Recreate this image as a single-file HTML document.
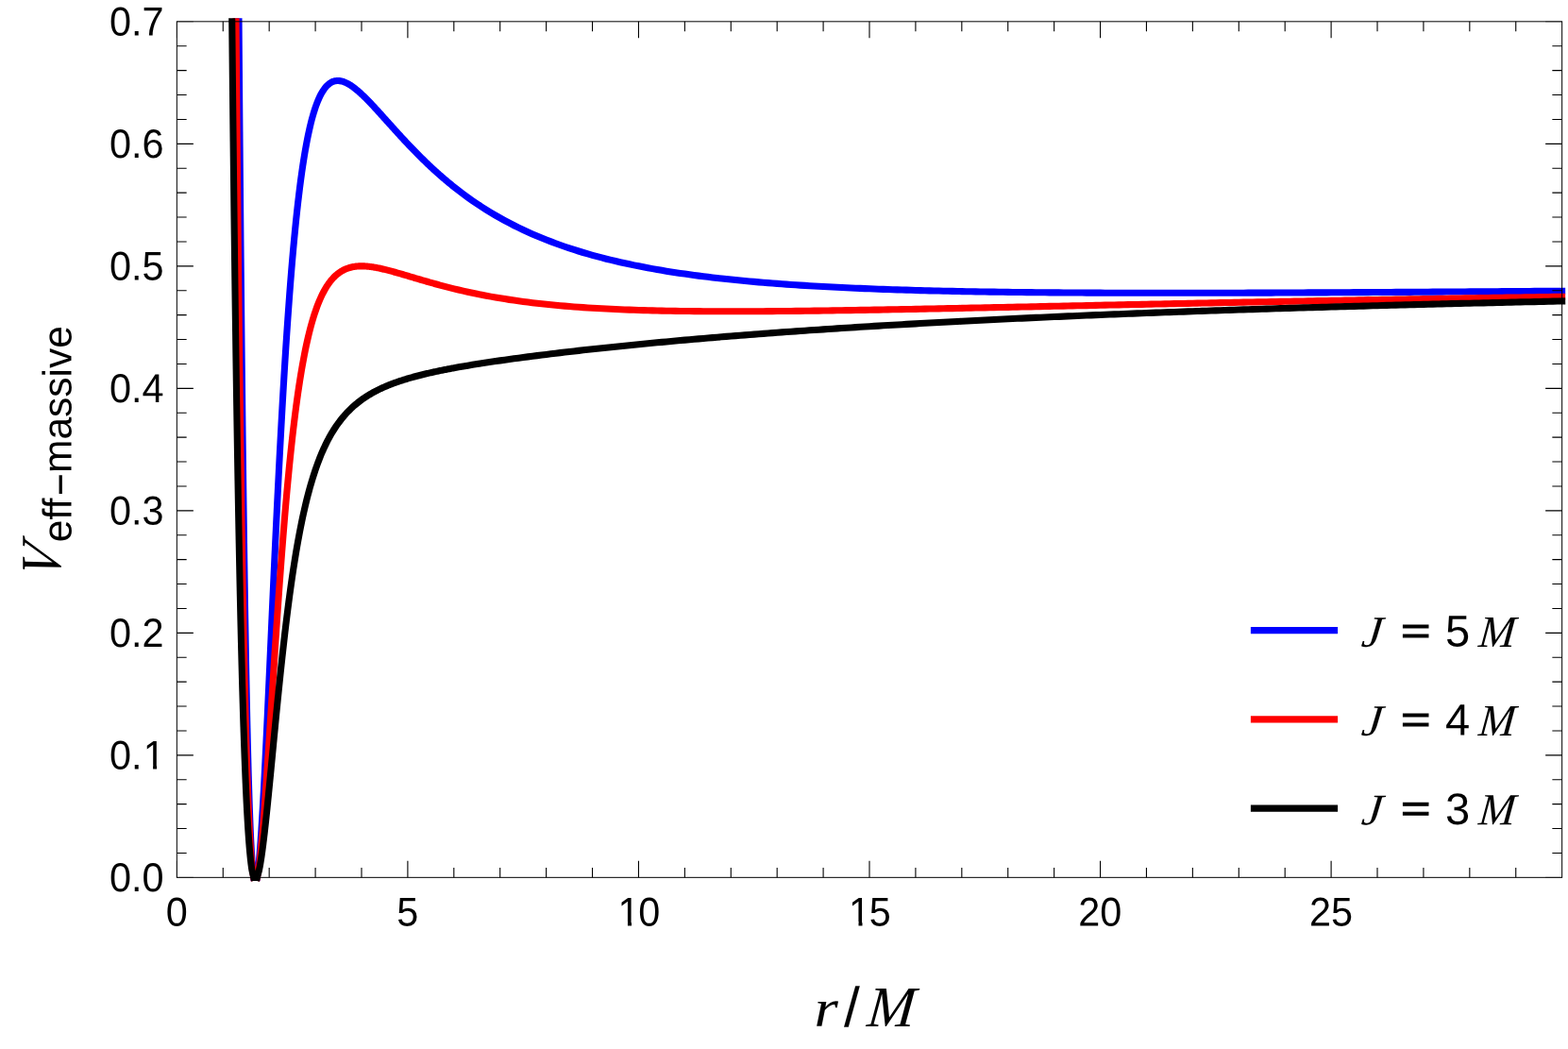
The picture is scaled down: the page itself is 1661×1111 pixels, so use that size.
<!DOCTYPE html>
<html><head><meta charset="utf-8"><title>V eff massive</title>
<style>
html,body{margin:0;padding:0;background:#fff;}
body{width:1661px;height:1111px;overflow:hidden;}
svg{display:block;}
.tk{font-family:"Liberation Sans",sans-serif;font-size:42px;fill:#000;}
.it{font-family:"Liberation Serif",serif;font-style:italic;fill:#000;}
.sa{font-family:"Liberation Sans",sans-serif;fill:#000;}
</style></head><body>
<svg width="1661" height="1111" viewBox="0 0 1661 1111">
<rect x="0" y="0" width="1661" height="1111" fill="#fff"/>

<g fill="none" stroke-width="7.10" stroke-linecap="square" stroke-linejoin="miter">
<path d="M253.01,22.83 L253.14,40.23 L253.27,57.39 L253.40,74.33 L253.53,91.04 L253.66,107.52 L253.79,123.79 L253.93,139.83 L254.06,155.65 L254.19,171.26 L254.32,186.65 L254.45,201.82 L254.58,216.79 L254.71,231.55 L254.84,246.10 L254.97,260.44 L255.11,274.58 L255.24,288.52 L255.37,302.26 L255.50,315.80 L255.63,329.14 L255.76,342.29 L255.89,355.25 L256.02,368.01 L256.15,380.59 L256.29,392.97 L256.42,405.18 L256.55,417.19 L256.68,429.03 L256.81,440.68 L256.94,452.16 L257.07,463.46 L257.20,474.58 L257.33,485.53 L257.47,496.30 L257.60,506.91 L257.73,517.34 L257.86,527.61 L257.99,537.71 L258.12,547.65 L258.25,557.42 L258.38,567.03 L258.52,576.48 L258.65,585.77 L258.78,594.91 L258.91,603.89 L259.04,612.72 L259.17,621.39 L259.30,629.91 L259.43,638.28 L259.56,646.51 L259.70,654.58 L259.83,662.52 L259.96,670.30 L260.09,677.95 L260.22,685.45 L260.35,692.82 L260.48,700.04 L260.61,707.13 L260.74,714.08 L260.88,720.90 L261.01,727.59 L261.14,734.14 L261.27,740.56 L261.40,746.86 L261.53,753.02 L261.66,759.06 L261.79,764.97 L261.92,770.76 L262.06,776.43 L262.19,781.97 L262.32,787.40 L262.45,792.71 L262.58,797.89 L262.71,802.96 L262.84,807.92 L262.97,812.76 L263.10,817.49 L263.24,822.11 L263.37,826.61 L263.50,831.01 L263.63,835.30 L263.76,839.48 L263.89,843.55 L264.02,847.52 L264.15,851.38 L264.28,855.15 L264.42,858.81 L264.55,862.37 L264.68,865.83 L264.81,869.19 L264.94,872.46 L265.07,875.62 L265.20,878.70 L265.33,881.68 L265.47,884.56 L265.60,887.36 L265.73,890.06 L265.86,892.67 L265.99,895.20 L266.12,897.63 L266.25,899.98 L266.38,902.24 L266.51,904.42 L266.65,906.51 L266.78,908.52 L266.91,910.45 L267.04,912.30 L267.17,914.06 L267.30,915.75 L267.43,917.36 L267.56,918.89 L267.69,920.34 L267.83,921.72 L268.74,929.33 M272.34,929.33 L273.32,922.51 L273.52,920.86 L273.71,919.11 L273.91,917.27 L274.10,915.34 L274.30,913.33 L274.49,911.23 L274.69,909.05 L274.89,906.79 L275.08,904.46 L275.28,902.04 L275.47,899.55 L275.67,896.99 L275.86,894.36 L276.06,891.66 L276.25,888.89 L276.45,886.06 L276.65,883.16 L276.84,880.20 L277.04,877.18 L277.23,874.10 L277.43,870.97 L277.62,867.78 L277.82,864.54 L278.02,861.24 L278.21,857.90 L278.41,854.50 L278.60,851.06 L278.80,847.58 L278.99,844.05 L279.19,840.47 L279.39,836.86 L279.58,833.20 L279.78,829.51 L279.97,825.77 L280.17,822.01 L280.36,818.21 L280.56,814.37 L280.75,810.50 L280.95,806.61 L281.15,802.68 L281.34,798.72 L281.54,794.74 L281.73,790.73 L281.93,786.70 L282.12,782.64 L282.32,778.56 L282.52,774.46 L282.71,770.34 L282.91,766.20 L283.10,762.04 L283.30,757.87 L283.49,753.68 L283.69,749.47 L283.88,745.25 L284.08,741.02 L284.28,736.78 L284.47,732.52 L284.67,728.25 L284.86,723.98 L285.06,719.69 L285.25,715.40 L285.45,711.10 L285.65,706.80 L285.84,702.49 L286.04,698.18 L286.23,693.86 L286.43,689.54 L286.62,685.22 L286.82,680.89 L287.02,676.57 L287.21,672.24 L287.41,667.92 L287.60,663.60 L287.80,659.28 L287.99,654.97 L288.19,650.65 L288.38,646.34 L288.58,642.04 L288.78,637.74 L288.97,633.45 L289.17,629.16 L289.36,624.88 L289.56,620.61 L289.75,616.35 L289.95,612.09 L290.15,607.85 L290.34,603.61 L290.54,599.39 L290.73,595.17 L290.93,590.97 L291.12,586.78 L291.32,582.59 L291.51,578.43 L291.71,574.27 L291.91,570.13 L292.10,566.00 L292.30,561.88 L292.49,557.78 L292.69,553.70 L292.88,549.63 L293.08,545.57 L293.28,541.53 L293.47,537.51 L293.67,533.50 L293.86,529.51 L294.06,525.54 L294.25,521.58 L294.45,517.64 L294.65,513.72 L294.84,509.82 L295.04,505.93 L296.01,486.78 L296.99,468.13 L297.97,449.98 L298.95,432.35 L299.93,415.27 L300.91,398.73 L301.88,382.75 L302.86,367.33 L303.84,352.47 L304.82,338.16 L305.80,324.40 L306.77,311.19 L307.75,298.51 L308.73,286.36 L309.71,274.74 L310.69,263.61 L311.67,252.98 L312.64,242.84 L313.62,233.16 L314.60,223.93 L315.58,215.15 L316.56,206.79 L317.53,198.84 L318.51,191.29 L319.49,184.13 L320.47,177.33 L321.45,170.89 L322.43,164.78 L323.40,159.01 L324.38,153.55 L325.36,148.40 L326.34,143.53 L327.32,138.94 L328.30,134.62 L329.27,130.55 L330.25,126.73 L331.23,123.14 L332.21,119.77 L333.19,116.62 L334.16,113.67 L335.14,110.91 L336.12,108.34 L337.10,105.96 L338.08,103.74 L339.06,101.68 L340.03,99.78 L341.01,98.03 L341.99,96.42 L342.97,94.94 L343.95,93.60 L344.92,92.38 L345.90,91.27 L346.88,90.28 L347.86,89.40 L348.84,88.62 L349.82,87.93 L350.79,87.34 L351.77,86.84 L352.75,86.43 L353.73,86.09 L354.71,85.83 L355.68,85.65 L356.66,85.54 L357.64,85.49 L358.62,85.51 L359.60,85.59 L360.58,85.72 L361.55,85.91 L362.53,86.16 L363.51,86.45 L364.49,86.79 L365.47,87.18 L366.44,87.61 L367.42,88.08 L368.40,88.60 L369.38,89.14 L370.36,89.73 L371.34,90.34 L372.31,90.99 L373.29,91.67 L374.27,92.38 L375.25,93.11 L376.23,93.87 L377.21,94.66 L378.18,95.46 L379.16,96.29 L380.14,97.14 L381.12,98.01 L382.10,98.90 L383.07,99.80 L384.05,100.72 L385.03,101.65 L386.01,102.60 L386.99,103.57 L387.97,104.54 L388.94,105.53 L389.92,106.52 L390.90,107.53 L391.88,108.55 L392.86,109.57 L393.83,110.61 L394.81,111.65 L395.79,112.70 L396.77,113.75 L397.75,114.81 L398.73,115.87 L399.70,116.94 L400.68,118.01 L401.66,119.09 L402.64,120.17 L403.62,121.25 L404.59,122.34 L405.57,123.42 L406.55,124.51 L407.53,125.60 L408.51,126.69 L409.49,127.78 L410.46,128.87 L411.44,129.96 L412.42,131.05 L413.40,132.14 L414.38,133.23 L415.35,134.32 L416.33,135.40 L417.31,136.49 L418.29,137.57 L419.27,138.65 L420.25,139.73 L421.22,140.80 L422.20,141.87 L423.18,142.94 L424.16,144.01 L425.14,145.07 L426.12,146.13 L427.09,147.19 L428.07,148.24 L429.05,149.29 L430.03,150.34 L431.01,151.38 L431.98,152.42 L432.96,153.45 L433.94,154.48 L434.92,155.51 L435.90,156.53 L436.88,157.54 L437.85,158.56 L438.83,159.56 L439.81,160.56 L440.79,161.56 L441.77,162.55 L442.74,163.54 L443.72,164.52 L444.70,165.50 L445.68,166.47 L446.66,167.44 L447.64,168.40 L448.61,169.36 L449.59,170.31 L450.57,171.26 L451.55,172.20 L452.53,173.14 L453.50,174.07 L454.48,174.99 L455.46,175.91 L456.44,176.83 L457.42,177.74 L458.40,178.64 L459.37,179.54 L460.35,180.44 L461.33,181.32 L462.31,182.21 L463.29,183.08 L464.26,183.96 L465.24,184.82 L466.22,185.68 L467.20,186.54 L468.18,187.39 L469.16,188.24 L470.13,189.08 L471.11,189.91 L472.09,190.74 L473.07,191.56 L474.05,192.38 L475.03,193.19 L476.00,194.00 L476.98,194.80 L477.96,195.60 L478.94,196.39 L479.92,197.18 L480.89,197.96 L485.79,201.79 L490.68,205.50 L495.57,209.07 L500.46,212.53 L505.35,215.87 L510.24,219.09 L515.13,222.21 L520.02,225.21 L524.91,228.11 L529.80,230.91 L534.70,233.61 L539.59,236.21 L544.48,238.73 L549.37,241.16 L554.26,243.50 L559.15,245.76 L564.04,247.94 L568.93,250.05 L573.82,252.08 L578.71,254.04 L583.61,255.93 L588.50,257.76 L593.39,259.53 L598.28,261.23 L603.17,262.88 L608.06,264.47 L612.95,266.01 L617.84,267.49 L622.73,268.92 L627.62,270.31 L632.52,271.64 L637.41,272.94 L642.30,274.19 L647.19,275.40 L652.08,276.56 L656.97,277.69 L661.86,278.78 L666.75,279.84 L671.64,280.86 L676.53,281.85 L681.43,282.80 L686.32,283.72 L691.21,284.62 L696.10,285.48 L700.99,286.32 L705.88,287.13 L710.77,287.91 L715.66,288.67 L720.55,289.40 L725.44,290.11 L730.34,290.80 L735.23,291.46 L740.12,292.11 L745.01,292.73 L749.90,293.34 L754.79,293.92 L759.68,294.49 L764.57,295.03 L769.46,295.56 L774.35,296.08 L779.25,296.58 L784.14,297.06 L789.03,297.52 L793.92,297.98 L798.81,298.41 L803.70,298.84 L808.59,299.25 L813.48,299.65 L818.37,300.03 L823.26,300.40 L828.16,300.76 L833.05,301.11 L837.94,301.45 L842.83,301.78 L847.72,302.10 L852.61,302.41 L857.50,302.71 L862.39,302.99 L867.28,303.27 L872.17,303.54 L877.07,303.81 L881.96,304.06 L886.85,304.30 L891.74,304.54 L896.63,304.77 L901.52,304.99 L906.41,305.21 L911.30,305.42 L916.19,305.62 L921.08,305.81 L925.98,306.00 L930.87,306.19 L935.76,306.36 L940.65,306.53 L945.54,306.70 L950.43,306.86 L955.32,307.01 L960.21,307.16 L965.10,307.30 L969.99,307.44 L974.89,307.58 L979.78,307.70 L984.67,307.83 L989.56,307.95 L994.45,308.07 L999.34,308.18 L1004.23,308.29 L1009.12,308.39 L1014.01,308.49 L1018.90,308.59 L1023.80,308.68 L1028.69,308.77 L1033.58,308.85 L1038.47,308.94 L1043.36,309.02 L1048.25,309.09 L1053.14,309.16 L1058.03,309.23 L1062.92,309.30 L1067.81,309.37 L1072.71,309.43 L1077.60,309.49 L1082.49,309.54 L1087.38,309.60 L1092.27,309.65 L1097.16,309.70 L1102.05,309.74 L1106.94,309.79 L1111.83,309.83 L1116.72,309.87 L1121.62,309.91 L1126.51,309.94 L1131.40,309.97 L1136.29,310.01 L1141.18,310.04 L1146.07,310.06 L1150.96,310.09 L1155.85,310.11 L1160.74,310.14 L1165.63,310.16 L1170.53,310.18 L1175.42,310.20 L1180.31,310.21 L1185.20,310.23 L1190.09,310.24 L1194.98,310.25 L1199.87,310.26 L1204.76,310.27 L1209.65,310.28 L1214.54,310.29 L1219.44,310.29 L1224.33,310.30 L1229.22,310.30 L1234.11,310.30 L1239.00,310.30 L1243.89,310.30 L1248.78,310.30 L1253.67,310.30 L1258.56,310.29 L1263.45,310.29 L1268.35,310.28 L1273.24,310.28 L1278.13,310.27 L1283.02,310.26 L1287.91,310.25 L1292.80,310.24 L1297.69,310.23 L1302.58,310.22 L1307.47,310.21 L1312.36,310.19 L1317.26,310.18 L1322.15,310.17 L1327.04,310.15 L1331.93,310.14 L1336.82,310.12 L1341.71,310.10 L1346.60,310.08 L1351.49,310.07 L1356.38,310.05 L1361.27,310.03 L1366.17,310.01 L1371.06,309.99 L1375.95,309.96 L1380.84,309.94 L1385.73,309.92 L1390.62,309.90 L1395.51,309.87 L1400.40,309.85 L1405.29,309.83 L1410.18,309.80 L1415.08,309.78 L1419.97,309.75 L1424.86,309.73 L1429.75,309.70 L1434.64,309.67 L1439.53,309.65 L1444.42,309.62 L1449.31,309.59 L1454.20,309.56 L1459.09,309.53 L1463.99,309.50 L1468.88,309.48 L1473.77,309.45 L1478.66,309.42 L1483.55,309.39 L1488.44,309.36 L1493.33,309.33 L1498.22,309.29 L1503.11,309.26 L1508.00,309.23 L1512.90,309.20 L1517.79,309.17 L1522.68,309.14 L1527.57,309.10 L1532.46,309.07 L1537.35,309.04 L1542.24,309.01 L1547.13,308.97 L1552.02,308.94 L1556.91,308.91 L1561.81,308.87 L1566.70,308.84 L1571.59,308.81 L1576.48,308.77 L1581.37,308.74 L1586.26,308.70 L1591.15,308.67 L1596.04,308.63 L1600.93,308.60 L1605.82,308.56 L1610.72,308.53 L1615.61,308.49 L1620.50,308.46 L1625.39,308.42 L1630.28,308.39 L1635.17,308.35 L1640.06,308.32 L1644.95,308.28 L1649.84,308.24 L1654.65,308.21" stroke="#0000ff"/>
<path d="M250.03,22.83 L250.18,40.97 L250.34,58.86 L250.50,76.48 L250.65,93.86 L250.81,110.98 L250.96,127.86 L251.12,144.49 L251.28,160.87 L251.43,177.02 L251.59,192.92 L251.74,208.59 L251.90,224.03 L252.05,239.24 L252.21,254.21 L252.37,268.97 L252.52,283.49 L252.68,297.80 L252.83,311.88 L252.99,325.75 L253.15,339.41 L253.30,352.85 L253.46,366.08 L253.61,379.10 L253.77,391.92 L253.93,404.53 L254.08,416.94 L254.24,429.15 L254.39,441.16 L254.55,452.98 L254.71,464.60 L254.86,476.03 L255.02,487.28 L255.17,498.33 L255.33,509.20 L255.49,519.88 L255.64,530.39 L255.80,540.71 L255.95,550.86 L256.11,560.83 L256.27,570.62 L256.42,580.24 L256.58,589.70 L256.73,598.98 L256.89,608.10 L257.05,617.05 L257.20,625.84 L257.36,634.46 L257.51,642.93 L257.67,651.24 L257.83,659.39 L257.98,667.39 L258.14,675.23 L258.29,682.92 L258.45,690.47 L258.61,697.86 L258.76,705.11 L258.92,712.22 L259.07,719.18 L259.23,726.00 L259.39,732.67 L259.54,739.21 L259.70,745.62 L259.85,751.89 L260.01,758.02 L260.17,764.02 L260.32,769.89 L260.48,775.63 L260.63,781.24 L260.79,786.73 L260.95,792.09 L261.10,797.33 L261.26,802.45 L261.41,807.44 L261.57,812.32 L261.72,817.07 L261.88,821.71 L262.04,826.24 L262.19,830.65 L262.35,834.95 L262.50,839.13 L262.66,843.21 L262.82,847.18 L262.97,851.04 L263.13,854.80 L263.28,858.45 L263.44,861.99 L263.60,865.44 L263.75,868.78 L263.91,872.02 L264.06,875.17 L264.22,878.22 L264.38,881.17 L264.53,884.02 L264.69,886.79 L264.84,889.45 L265.00,892.03 L265.16,894.52 L265.31,896.92 L265.47,899.23 L265.62,901.45 L265.78,903.59 L265.94,905.65 L266.09,907.62 L266.25,909.50 L266.40,911.31 L266.56,913.03 L266.72,914.68 L266.87,916.25 L267.03,917.74 L267.18,919.15 L267.34,920.49 L267.50,921.76 L268.74,929.33 M272.34,929.33 L273.71,922.38 L273.91,921.13 L274.10,919.82 L274.30,918.44 L274.49,917.01 L274.69,915.53 L274.89,913.98 L275.08,912.39 L275.28,910.74 L275.47,909.04 L275.67,907.29 L275.86,905.49 L276.06,903.64 L276.25,901.75 L276.45,899.81 L276.65,897.83 L276.84,895.80 L277.04,893.73 L277.23,891.62 L277.43,889.47 L277.62,887.28 L277.82,885.06 L278.02,882.79 L278.21,880.49 L278.41,878.16 L278.60,875.80 L278.80,873.40 L278.99,870.97 L279.19,868.51 L279.39,866.02 L279.58,863.50 L279.78,860.95 L279.97,858.38 L280.17,855.78 L280.36,853.15 L280.56,850.51 L280.75,847.83 L280.95,845.14 L281.15,842.43 L281.34,839.69 L281.54,836.93 L281.73,834.16 L281.93,831.36 L282.12,828.55 L282.32,825.73 L282.52,822.88 L282.71,820.02 L282.91,817.15 L283.10,814.26 L283.30,811.36 L283.49,808.45 L283.69,805.52 L283.88,802.59 L284.08,799.64 L284.28,796.68 L284.47,793.72 L284.67,790.74 L284.86,787.76 L285.06,784.77 L285.25,781.78 L285.45,778.78 L285.65,775.77 L285.84,772.75 L286.04,769.74 L286.23,766.72 L286.43,763.69 L286.62,760.66 L286.82,757.63 L287.02,754.60 L287.21,751.57 L287.41,748.53 L287.60,745.50 L287.80,742.46 L287.99,739.43 L288.19,736.40 L288.38,733.37 L288.58,730.34 L288.78,727.31 L288.97,724.28 L289.17,721.26 L289.36,718.24 L289.56,715.22 L289.75,712.21 L289.95,709.21 L290.15,706.20 L290.34,703.21 L290.54,700.22 L290.73,697.23 L290.93,694.25 L291.12,691.28 L291.32,688.31 L291.51,685.35 L291.71,682.40 L291.91,679.46 L292.10,676.52 L292.30,673.59 L292.49,670.67 L292.69,667.76 L292.88,664.86 L293.08,661.97 L293.28,659.08 L293.47,656.21 L293.67,653.35 L293.86,650.49 L294.06,647.65 L294.25,644.82 L294.45,642.00 L294.65,639.19 L294.84,636.39 L295.04,633.60 L296.01,619.83 L296.99,606.37 L297.97,593.23 L298.95,580.43 L299.93,567.97 L300.91,555.87 L301.88,544.13 L302.86,532.75 L303.84,521.73 L304.82,511.08 L305.80,500.79 L306.77,490.87 L307.75,481.30 L308.73,472.08 L309.71,463.21 L310.69,454.67 L311.67,446.47 L312.64,438.59 L313.62,431.03 L314.60,423.77 L315.58,416.81 L316.56,410.14 L317.53,403.75 L318.51,397.63 L319.49,391.77 L320.47,386.17 L321.45,380.81 L322.43,375.68 L323.40,370.78 L324.38,366.10 L325.36,361.62 L326.34,357.35 L327.32,353.27 L328.30,349.38 L329.27,345.66 L330.25,342.12 L331.23,338.74 L332.21,335.51 L333.19,332.44 L334.16,329.51 L335.14,326.72 L336.12,324.06 L337.10,321.53 L338.08,319.13 L339.06,316.84 L340.03,314.66 L341.01,312.59 L341.99,310.62 L342.97,308.75 L343.95,306.97 L344.92,305.28 L345.90,303.69 L346.88,302.17 L347.86,300.73 L348.84,299.37 L349.82,298.08 L350.79,296.87 L351.77,295.72 L352.75,294.63 L353.73,293.61 L354.71,292.64 L355.68,291.73 L356.66,290.87 L357.64,290.07 L358.62,289.32 L359.60,288.61 L360.58,287.95 L361.55,287.34 L362.53,286.76 L363.51,286.23 L364.49,285.73 L365.47,285.27 L366.44,284.85 L367.42,284.46 L368.40,284.10 L369.38,283.78 L370.36,283.48 L371.34,283.21 L372.31,282.97 L373.29,282.76 L374.27,282.57 L375.25,282.40 L376.23,282.26 L377.21,282.14 L378.18,282.04 L379.16,281.96 L380.14,281.90 L381.12,281.86 L382.10,281.84 L383.07,281.83 L384.05,281.84 L385.03,281.86 L386.01,281.90 L386.99,281.96 L387.97,282.02 L388.94,282.10 L389.92,282.20 L390.90,282.30 L391.88,282.41 L392.86,282.54 L393.83,282.68 L394.81,282.82 L395.79,282.98 L396.77,283.14 L397.75,283.31 L398.73,283.49 L399.70,283.68 L400.68,283.87 L401.66,284.07 L402.64,284.28 L403.62,284.49 L404.59,284.71 L405.57,284.94 L406.55,285.17 L407.53,285.40 L408.51,285.64 L409.49,285.89 L410.46,286.13 L411.44,286.39 L412.42,286.64 L413.40,286.90 L414.38,287.16 L415.35,287.43 L416.33,287.70 L417.31,287.97 L418.29,288.24 L419.27,288.51 L420.25,288.79 L421.22,289.07 L422.20,289.35 L423.18,289.63 L424.16,289.91 L425.14,290.20 L426.12,290.48 L427.09,290.77 L428.07,291.06 L429.05,291.35 L430.03,291.64 L431.01,291.93 L431.98,292.22 L432.96,292.51 L433.94,292.80 L434.92,293.09 L435.90,293.38 L436.88,293.67 L437.85,293.96 L438.83,294.25 L439.81,294.54 L440.79,294.83 L441.77,295.12 L442.74,295.41 L443.72,295.69 L444.70,295.98 L445.68,296.27 L446.66,296.56 L447.64,296.84 L448.61,297.13 L449.59,297.41 L450.57,297.69 L451.55,297.97 L452.53,298.25 L453.50,298.53 L454.48,298.81 L455.46,299.09 L456.44,299.37 L457.42,299.64 L458.40,299.92 L459.37,300.19 L460.35,300.46 L461.33,300.73 L462.31,301.00 L463.29,301.27 L464.26,301.53 L465.24,301.80 L466.22,302.06 L467.20,302.32 L468.18,302.58 L469.16,302.84 L470.13,303.10 L471.11,303.36 L472.09,303.61 L473.07,303.86 L474.05,304.12 L475.03,304.37 L476.00,304.61 L476.98,304.86 L477.96,305.11 L478.94,305.35 L479.92,305.59 L480.89,305.83 L485.79,307.01 L490.68,308.15 L495.57,309.25 L500.46,310.30 L505.35,311.32 L510.24,312.30 L515.13,313.23 L520.02,314.13 L524.91,315.00 L529.80,315.82 L534.70,316.61 L539.59,317.37 L544.48,318.09 L549.37,318.78 L554.26,319.44 L559.15,320.07 L564.04,320.67 L568.93,321.24 L573.82,321.79 L578.71,322.31 L583.61,322.80 L588.50,323.27 L593.39,323.71 L598.28,324.14 L603.17,324.54 L608.06,324.92 L612.95,325.28 L617.84,325.62 L622.73,325.94 L627.62,326.25 L632.52,326.53 L637.41,326.80 L642.30,327.06 L647.19,327.30 L652.08,327.52 L656.97,327.74 L661.86,327.93 L666.75,328.12 L671.64,328.29 L676.53,328.45 L681.43,328.60 L686.32,328.74 L691.21,328.87 L696.10,328.99 L700.99,329.10 L705.88,329.19 L710.77,329.28 L715.66,329.37 L720.55,329.44 L725.44,329.51 L730.34,329.56 L735.23,329.61 L740.12,329.66 L745.01,329.70 L749.90,329.73 L754.79,329.75 L759.68,329.77 L764.57,329.78 L769.46,329.79 L774.35,329.79 L779.25,329.79 L784.14,329.78 L789.03,329.77 L793.92,329.75 L798.81,329.73 L803.70,329.71 L808.59,329.68 L813.48,329.65 L818.37,329.61 L823.26,329.57 L828.16,329.53 L833.05,329.49 L837.94,329.44 L842.83,329.39 L847.72,329.33 L852.61,329.27 L857.50,329.22 L862.39,329.15 L867.28,329.09 L872.17,329.02 L877.07,328.95 L881.96,328.88 L886.85,328.81 L891.74,328.74 L896.63,328.66 L901.52,328.58 L906.41,328.50 L911.30,328.42 L916.19,328.34 L921.08,328.26 L925.98,328.17 L930.87,328.09 L935.76,328.00 L940.65,327.91 L945.54,327.82 L950.43,327.73 L955.32,327.64 L960.21,327.54 L965.10,327.45 L969.99,327.36 L974.89,327.26 L979.78,327.16 L984.67,327.07 L989.56,326.97 L994.45,326.87 L999.34,326.77 L1004.23,326.67 L1009.12,326.58 L1014.01,326.47 L1018.90,326.37 L1023.80,326.27 L1028.69,326.17 L1033.58,326.07 L1038.47,325.97 L1043.36,325.87 L1048.25,325.76 L1053.14,325.66 L1058.03,325.56 L1062.92,325.45 L1067.81,325.35 L1072.71,325.25 L1077.60,325.14 L1082.49,325.04 L1087.38,324.93 L1092.27,324.83 L1097.16,324.73 L1102.05,324.62 L1106.94,324.52 L1111.83,324.41 L1116.72,324.31 L1121.62,324.20 L1126.51,324.10 L1131.40,324.00 L1136.29,323.89 L1141.18,323.79 L1146.07,323.68 L1150.96,323.58 L1155.85,323.48 L1160.74,323.37 L1165.63,323.27 L1170.53,323.16 L1175.42,323.06 L1180.31,322.96 L1185.20,322.85 L1190.09,322.75 L1194.98,322.65 L1199.87,322.55 L1204.76,322.44 L1209.65,322.34 L1214.54,322.24 L1219.44,322.14 L1224.33,322.04 L1229.22,321.94 L1234.11,321.83 L1239.00,321.73 L1243.89,321.63 L1248.78,321.53 L1253.67,321.43 L1258.56,321.33 L1263.45,321.23 L1268.35,321.13 L1273.24,321.03 L1278.13,320.94 L1283.02,320.84 L1287.91,320.74 L1292.80,320.64 L1297.69,320.54 L1302.58,320.45 L1307.47,320.35 L1312.36,320.25 L1317.26,320.15 L1322.15,320.06 L1327.04,319.96 L1331.93,319.87 L1336.82,319.77 L1341.71,319.68 L1346.60,319.58 L1351.49,319.49 L1356.38,319.39 L1361.27,319.30 L1366.17,319.21 L1371.06,319.11 L1375.95,319.02 L1380.84,318.93 L1385.73,318.84 L1390.62,318.74 L1395.51,318.65 L1400.40,318.56 L1405.29,318.47 L1410.18,318.38 L1415.08,318.29 L1419.97,318.20 L1424.86,318.11 L1429.75,318.02 L1434.64,317.93 L1439.53,317.84 L1444.42,317.75 L1449.31,317.66 L1454.20,317.58 L1459.09,317.49 L1463.99,317.40 L1468.88,317.32 L1473.77,317.23 L1478.66,317.14 L1483.55,317.06 L1488.44,316.97 L1493.33,316.89 L1498.22,316.80 L1503.11,316.72 L1508.00,316.63 L1512.90,316.55 L1517.79,316.47 L1522.68,316.38 L1527.57,316.30 L1532.46,316.22 L1537.35,316.13 L1542.24,316.05 L1547.13,315.97 L1552.02,315.89 L1556.91,315.81 L1561.81,315.73 L1566.70,315.65 L1571.59,315.57 L1576.48,315.49 L1581.37,315.41 L1586.26,315.33 L1591.15,315.25 L1596.04,315.17 L1600.93,315.09 L1605.82,315.01 L1610.72,314.94 L1615.61,314.86 L1620.50,314.78 L1625.39,314.71 L1630.28,314.63 L1635.17,314.55 L1640.06,314.48 L1644.95,314.40 L1649.84,314.33 L1654.65,314.25" stroke="#ff0000"/>
<path d="M245.75,22.83 L245.95,41.86 L246.14,60.60 L246.33,79.05 L246.52,97.21 L246.71,115.08 L246.90,132.67 L247.10,149.98 L247.29,167.01 L247.48,183.78 L247.67,200.28 L247.86,216.51 L248.05,232.48 L248.25,248.19 L248.44,263.64 L248.63,278.84 L248.82,293.80 L249.01,308.50 L249.20,322.97 L249.39,337.19 L249.59,351.18 L249.78,364.93 L249.97,378.44 L250.16,391.73 L250.35,404.80 L250.54,417.64 L250.74,430.26 L250.93,442.66 L251.12,454.84 L251.31,466.82 L251.50,478.58 L251.69,490.13 L251.88,501.48 L252.08,512.63 L252.27,523.57 L252.46,534.32 L252.65,544.87 L252.84,555.23 L253.03,565.40 L253.23,575.38 L253.42,585.17 L253.61,594.78 L253.80,604.20 L253.99,613.45 L254.18,622.52 L254.38,631.41 L254.57,640.13 L254.76,648.68 L254.95,657.07 L255.14,665.28 L255.33,673.33 L255.52,681.22 L255.72,688.94 L255.91,696.51 L256.10,703.92 L256.29,711.17 L256.48,718.27 L256.67,725.22 L256.87,732.03 L257.06,738.68 L257.25,745.19 L257.44,751.55 L257.63,757.78 L257.82,763.86 L258.02,769.80 L258.21,775.61 L258.40,781.29 L258.59,786.83 L258.78,792.23 L258.97,797.51 L259.16,802.66 L259.36,807.69 L259.55,812.59 L259.74,817.36 L259.93,822.02 L260.12,826.55 L260.31,830.97 L260.51,835.27 L260.70,839.45 L260.89,843.52 L261.08,847.48 L261.27,851.32 L261.46,855.06 L261.66,858.69 L261.85,862.21 L262.04,865.63 L262.23,868.94 L262.42,872.16 L262.61,875.27 L262.80,878.28 L263.00,881.19 L263.19,884.01 L263.38,886.73 L263.57,889.36 L263.76,891.90 L263.95,894.34 L264.15,896.69 L264.34,898.96 L264.53,901.14 L264.72,903.23 L264.91,905.23 L265.10,907.16 L265.30,909.00 L265.49,910.76 L265.68,912.43 L265.87,914.03 L266.06,915.56 L266.25,917.00 L266.44,918.37 L266.64,919.67 L266.83,920.89 L267.02,922.04 L268.74,929.33 M272.34,929.33 L274.30,922.42 L274.49,921.51 L274.69,920.56 L274.89,919.58 L275.08,918.56 L275.28,917.51 L275.47,916.42 L275.67,915.30 L275.86,914.15 L276.06,912.96 L276.25,911.75 L276.45,910.51 L276.65,909.23 L276.84,907.93 L277.04,906.60 L277.23,905.24 L277.43,903.86 L277.62,902.45 L277.82,901.01 L278.02,899.55 L278.21,898.07 L278.41,896.56 L278.60,895.03 L278.80,893.48 L278.99,891.91 L279.19,890.31 L279.39,888.70 L279.58,887.06 L279.78,885.41 L279.97,883.74 L280.17,882.05 L280.36,880.34 L280.56,878.61 L280.75,876.87 L280.95,875.11 L281.15,873.34 L281.34,871.55 L281.54,869.75 L281.73,867.93 L281.93,866.11 L282.12,864.26 L282.32,862.41 L282.52,860.54 L282.71,858.66 L282.91,856.78 L283.10,854.88 L283.30,852.97 L283.49,851.05 L283.69,849.12 L283.88,847.18 L284.08,845.23 L284.28,843.28 L284.47,841.32 L284.67,839.35 L284.86,837.37 L285.06,835.39 L285.25,833.40 L285.45,831.41 L285.65,829.41 L285.84,827.41 L286.04,825.40 L286.23,823.38 L286.43,821.37 L286.62,819.35 L286.82,817.32 L287.02,815.29 L287.21,813.26 L287.41,811.23 L287.60,809.20 L287.80,807.16 L287.99,805.13 L288.19,803.09 L288.38,801.05 L288.58,799.01 L288.78,796.97 L288.97,794.93 L289.17,792.89 L289.36,790.85 L289.56,788.81 L289.75,786.77 L289.95,784.74 L290.15,782.70 L290.34,780.67 L290.54,778.64 L290.73,776.61 L290.93,774.58 L291.12,772.56 L291.32,770.54 L291.51,768.52 L291.71,766.50 L291.91,764.49 L292.10,762.48 L292.30,760.48 L292.49,758.48 L292.69,756.48 L292.88,754.49 L293.08,752.50 L293.28,750.51 L293.47,748.54 L293.67,746.56 L293.86,744.59 L294.06,742.63 L294.25,740.67 L294.45,738.72 L294.65,736.77 L294.84,734.83 L295.04,732.90 L296.01,723.31 L296.99,713.89 L297.97,704.65 L298.95,695.60 L299.93,686.74 L300.91,678.08 L301.88,669.64 L302.86,661.40 L303.84,653.38 L304.82,645.58 L305.80,637.99 L306.77,630.62 L307.75,623.47 L308.73,616.52 L309.71,609.80 L310.69,603.27 L311.67,596.96 L312.64,590.84 L313.62,584.92 L314.60,579.20 L315.58,573.66 L316.56,568.30 L317.53,563.12 L318.51,558.12 L319.49,553.28 L320.47,548.60 L321.45,544.08 L322.43,539.71 L323.40,535.49 L324.38,531.41 L325.36,527.47 L326.34,523.66 L327.32,519.97 L328.30,516.41 L329.27,512.97 L330.25,509.64 L331.23,506.42 L332.21,503.31 L333.19,500.30 L334.16,497.39 L335.14,494.57 L336.12,491.85 L337.10,489.21 L338.08,486.65 L339.06,484.18 L340.03,481.78 L341.01,479.46 L341.99,477.22 L342.97,475.04 L343.95,472.93 L344.92,470.88 L345.90,468.90 L346.88,466.97 L347.86,465.10 L348.84,463.29 L349.82,461.54 L350.79,459.83 L351.77,458.17 L352.75,456.57 L353.73,455.00 L354.71,453.49 L355.68,452.01 L356.66,450.58 L357.64,449.19 L358.62,447.84 L359.60,446.52 L360.58,445.24 L361.55,444.00 L362.53,442.79 L363.51,441.61 L364.49,440.46 L365.47,439.34 L366.44,438.25 L367.42,437.19 L368.40,436.16 L369.38,435.16 L370.36,434.18 L371.34,433.22 L372.31,432.29 L373.29,431.38 L374.27,430.49 L375.25,429.63 L376.23,428.78 L377.21,427.96 L378.18,427.16 L379.16,426.37 L380.14,425.61 L381.12,424.86 L382.10,424.12 L383.07,423.41 L384.05,422.71 L385.03,422.03 L386.01,421.36 L386.99,420.71 L387.97,420.07 L388.94,419.44 L389.92,418.83 L390.90,418.23 L391.88,417.64 L392.86,417.07 L393.83,416.51 L394.81,415.96 L395.79,415.42 L396.77,414.89 L397.75,414.37 L398.73,413.86 L399.70,413.36 L400.68,412.87 L401.66,412.39 L402.64,411.92 L403.62,411.46 L404.59,411.01 L405.57,410.56 L406.55,410.12 L407.53,409.69 L408.51,409.27 L409.49,408.86 L410.46,408.45 L411.44,408.05 L412.42,407.66 L413.40,407.27 L414.38,406.89 L415.35,406.51 L416.33,406.14 L417.31,405.78 L418.29,405.42 L419.27,405.07 L420.25,404.73 L421.22,404.39 L422.20,404.05 L423.18,403.72 L424.16,403.39 L425.14,403.07 L426.12,402.76 L427.09,402.44 L428.07,402.14 L429.05,401.83 L430.03,401.53 L431.01,401.24 L431.98,400.94 L432.96,400.66 L433.94,400.37 L434.92,400.09 L435.90,399.82 L436.88,399.54 L437.85,399.27 L438.83,399.00 L439.81,398.74 L440.79,398.48 L441.77,398.22 L442.74,397.97 L443.72,397.72 L444.70,397.47 L445.68,397.22 L446.66,396.98 L447.64,396.74 L448.61,396.50 L449.59,396.26 L450.57,396.03 L451.55,395.80 L452.53,395.57 L453.50,395.34 L454.48,395.12 L455.46,394.89 L456.44,394.67 L457.42,394.46 L458.40,394.24 L459.37,394.03 L460.35,393.81 L461.33,393.60 L462.31,393.39 L463.29,393.19 L464.26,392.98 L465.24,392.78 L466.22,392.58 L467.20,392.38 L468.18,392.18 L469.16,391.98 L470.13,391.79 L471.11,391.59 L472.09,391.40 L473.07,391.21 L474.05,391.02 L475.03,390.83 L476.00,390.65 L476.98,390.46 L477.96,390.28 L478.94,390.09 L479.92,389.91 L480.89,389.73 L485.79,388.85 L490.68,387.99 L495.57,387.16 L500.46,386.35 L505.35,385.56 L510.24,384.79 L515.13,384.03 L520.02,383.30 L524.91,382.58 L529.80,381.87 L534.70,381.17 L539.59,380.49 L544.48,379.82 L549.37,379.16 L554.26,378.51 L559.15,377.87 L564.04,377.24 L568.93,376.62 L573.82,376.01 L578.71,375.40 L583.61,374.81 L588.50,374.22 L593.39,373.64 L598.28,373.06 L603.17,372.49 L608.06,371.93 L612.95,371.38 L617.84,370.83 L622.73,370.29 L627.62,369.75 L632.52,369.22 L637.41,368.70 L642.30,368.18 L647.19,367.67 L652.08,367.16 L656.97,366.66 L661.86,366.16 L666.75,365.67 L671.64,365.18 L676.53,364.70 L681.43,364.23 L686.32,363.75 L691.21,363.29 L696.10,362.82 L700.99,362.37 L705.88,361.91 L710.77,361.46 L715.66,361.02 L720.55,360.58 L725.44,360.15 L730.34,359.71 L735.23,359.29 L740.12,358.86 L745.01,358.45 L749.90,358.03 L754.79,357.62 L759.68,357.21 L764.57,356.81 L769.46,356.41 L774.35,356.02 L779.25,355.62 L784.14,355.24 L789.03,354.85 L793.92,354.47 L798.81,354.09 L803.70,353.72 L808.59,353.35 L813.48,352.98 L818.37,352.62 L823.26,352.26 L828.16,351.91 L833.05,351.55 L837.94,351.20 L842.83,350.86 L847.72,350.51 L852.61,350.17 L857.50,349.83 L862.39,349.50 L867.28,349.17 L872.17,348.84 L877.07,348.51 L881.96,348.19 L886.85,347.87 L891.74,347.56 L896.63,347.24 L901.52,346.93 L906.41,346.62 L911.30,346.32 L916.19,346.01 L921.08,345.71 L925.98,345.41 L930.87,345.12 L935.76,344.83 L940.65,344.54 L945.54,344.25 L950.43,343.96 L955.32,343.68 L960.21,343.40 L965.10,343.12 L969.99,342.84 L974.89,342.57 L979.78,342.30 L984.67,342.03 L989.56,341.76 L994.45,341.50 L999.34,341.24 L1004.23,340.98 L1009.12,340.72 L1014.01,340.46 L1018.90,340.21 L1023.80,339.96 L1028.69,339.71 L1033.58,339.46 L1038.47,339.22 L1043.36,338.97 L1048.25,338.73 L1053.14,338.49 L1058.03,338.25 L1062.92,338.02 L1067.81,337.78 L1072.71,337.55 L1077.60,337.32 L1082.49,337.09 L1087.38,336.86 L1092.27,336.64 L1097.16,336.42 L1102.05,336.20 L1106.94,335.98 L1111.83,335.76 L1116.72,335.54 L1121.62,335.33 L1126.51,335.11 L1131.40,334.90 L1136.29,334.69 L1141.18,334.48 L1146.07,334.28 L1150.96,334.07 L1155.85,333.87 L1160.74,333.67 L1165.63,333.46 L1170.53,333.27 L1175.42,333.07 L1180.31,332.87 L1185.20,332.68 L1190.09,332.48 L1194.98,332.29 L1199.87,332.10 L1204.76,331.91 L1209.65,331.72 L1214.54,331.54 L1219.44,331.35 L1224.33,331.17 L1229.22,330.99 L1234.11,330.81 L1239.00,330.63 L1243.89,330.45 L1248.78,330.27 L1253.67,330.09 L1258.56,329.92 L1263.45,329.74 L1268.35,329.57 L1273.24,329.40 L1278.13,329.23 L1283.02,329.06 L1287.91,328.89 L1292.80,328.73 L1297.69,328.56 L1302.58,328.40 L1307.47,328.24 L1312.36,328.07 L1317.26,327.91 L1322.15,327.75 L1327.04,327.59 L1331.93,327.44 L1336.82,327.28 L1341.71,327.12 L1346.60,326.97 L1351.49,326.82 L1356.38,326.66 L1361.27,326.51 L1366.17,326.36 L1371.06,326.21 L1375.95,326.06 L1380.84,325.92 L1385.73,325.77 L1390.62,325.62 L1395.51,325.48 L1400.40,325.33 L1405.29,325.19 L1410.18,325.05 L1415.08,324.91 L1419.97,324.77 L1424.86,324.63 L1429.75,324.49 L1434.64,324.35 L1439.53,324.22 L1444.42,324.08 L1449.31,323.95 L1454.20,323.81 L1459.09,323.68 L1463.99,323.55 L1468.88,323.41 L1473.77,323.28 L1478.66,323.15 L1483.55,323.02 L1488.44,322.90 L1493.33,322.77 L1498.22,322.64 L1503.11,322.51 L1508.00,322.39 L1512.90,322.26 L1517.79,322.14 L1522.68,322.02 L1527.57,321.90 L1532.46,321.77 L1537.35,321.65 L1542.24,321.53 L1547.13,321.41 L1552.02,321.29 L1556.91,321.18 L1561.81,321.06 L1566.70,320.94 L1571.59,320.83 L1576.48,320.71 L1581.37,320.60 L1586.26,320.48 L1591.15,320.37 L1596.04,320.26 L1600.93,320.14 L1605.82,320.03 L1610.72,319.92 L1615.61,319.81 L1620.50,319.70 L1625.39,319.59 L1630.28,319.48 L1635.17,319.38 L1640.06,319.27 L1644.95,319.16 L1649.84,319.06 L1654.65,318.95" stroke="#000000"/>
</g>
<g fill="none" stroke-width="7.3" stroke-linecap="butt">
<path d="M1324.9,667.6 H1417.1" stroke="#0000ff"/>
<path d="M1324.9,761.9 H1417.1" stroke="#ff0000"/>
<path d="M1324.9,856.2 H1417.1" stroke="#000000"/>
</g>
<text class="it" font-size="47.5" transform="translate(1441.20,684.70) scale(1.03,0.98) skewX(-6) rotate(0.05)">J</text>
<text class="sa" font-size="46" transform="translate(1484.00,681.40) scale(1.17,0.861) rotate(0.05)" stroke="#000" stroke-width="1.25">=</text>
<text class="sa" font-size="47" transform="translate(1531.00,684.50) scale(1,1) rotate(0.05)">5</text>
<text class="it" font-size="47.5" transform="translate(1565.60,684.90) scale(0.975,1) skewX(-5.5) rotate(0.05)">M</text>
<text class="it" font-size="47.5" transform="translate(1441.20,778.70) scale(1.03,0.98) skewX(-6) rotate(0.05)">J</text>
<text class="sa" font-size="46" transform="translate(1484.00,775.40) scale(1.17,0.861) rotate(0.05)" stroke="#000" stroke-width="1.25">=</text>
<text class="sa" font-size="47" transform="translate(1531.00,778.50) scale(1,1) rotate(0.05)">4</text>
<text class="it" font-size="47.5" transform="translate(1565.60,778.90) scale(0.975,1) skewX(-5.5) rotate(0.05)">M</text>
<text class="it" font-size="47.5" transform="translate(1441.20,873.15) scale(1.03,0.98) skewX(-6) rotate(0.05)">J</text>
<text class="sa" font-size="46" transform="translate(1484.00,869.85) scale(1.17,0.861) rotate(0.05)" stroke="#000" stroke-width="1.25">=</text>
<text class="sa" font-size="47" transform="translate(1531.00,872.95) scale(1,1) rotate(0.05)">3</text>
<text class="it" font-size="47.5" transform="translate(1565.60,873.35) scale(0.975,1) skewX(-5.5) rotate(0.05)">M</text>
<path d="M236.26,929.33 v-10.30 M236.26,22.83 v10.30 M285.17,929.33 v-10.30 M285.17,22.83 v10.30 M334.08,929.33 v-10.30 M334.08,22.83 v10.30 M382.99,929.33 v-10.30 M382.99,22.83 v10.30 M431.90,929.33 v-17.50 M431.90,22.83 v17.50 M480.81,929.33 v-10.30 M480.81,22.83 v10.30 M529.72,929.33 v-10.30 M529.72,22.83 v10.30 M578.63,929.33 v-10.30 M578.63,22.83 v10.30 M627.54,929.33 v-10.30 M627.54,22.83 v10.30 M676.45,929.33 v-17.50 M676.45,22.83 v17.50 M725.36,929.33 v-10.30 M725.36,22.83 v10.30 M774.27,929.33 v-10.30 M774.27,22.83 v10.30 M823.18,929.33 v-10.30 M823.18,22.83 v10.30 M872.09,929.33 v-10.30 M872.09,22.83 v10.30 M921.00,929.33 v-17.50 M921.00,22.83 v17.50 M969.91,929.33 v-10.30 M969.91,22.83 v10.30 M1018.82,929.33 v-10.30 M1018.82,22.83 v10.30 M1067.73,929.33 v-10.30 M1067.73,22.83 v10.30 M1116.64,929.33 v-10.30 M1116.64,22.83 v10.30 M1165.55,929.33 v-17.50 M1165.55,22.83 v17.50 M1214.46,929.33 v-10.30 M1214.46,22.83 v10.30 M1263.37,929.33 v-10.30 M1263.37,22.83 v10.30 M1312.28,929.33 v-10.30 M1312.28,22.83 v10.30 M1361.19,929.33 v-10.30 M1361.19,22.83 v10.30 M1410.10,929.33 v-17.50 M1410.10,22.83 v17.50 M1459.01,929.33 v-10.30 M1459.01,22.83 v10.30 M1507.92,929.33 v-10.30 M1507.92,22.83 v10.30 M1556.83,929.33 v-10.30 M1556.83,22.83 v10.30 M1605.74,929.33 v-10.30 M1605.74,22.83 v10.30 M187.35,903.43 h10.30 M1654.65,903.43 h-10.30 M187.35,877.53 h10.30 M1654.65,877.53 h-10.30 M187.35,851.63 h10.30 M1654.65,851.63 h-10.30 M187.35,825.73 h10.30 M1654.65,825.73 h-10.30 M187.35,799.83 h17.50 M1654.65,799.83 h-17.50 M187.35,773.93 h10.30 M1654.65,773.93 h-10.30 M187.35,748.03 h10.30 M1654.65,748.03 h-10.30 M187.35,722.13 h10.30 M1654.65,722.13 h-10.30 M187.35,696.23 h10.30 M1654.65,696.23 h-10.30 M187.35,670.33 h17.50 M1654.65,670.33 h-17.50 M187.35,644.43 h10.30 M1654.65,644.43 h-10.30 M187.35,618.53 h10.30 M1654.65,618.53 h-10.30 M187.35,592.63 h10.30 M1654.65,592.63 h-10.30 M187.35,566.73 h10.30 M1654.65,566.73 h-10.30 M187.35,540.83 h17.50 M1654.65,540.83 h-17.50 M187.35,514.93 h10.30 M1654.65,514.93 h-10.30 M187.35,489.03 h10.30 M1654.65,489.03 h-10.30 M187.35,463.13 h10.30 M1654.65,463.13 h-10.30 M187.35,437.23 h10.30 M1654.65,437.23 h-10.30 M187.35,411.33 h17.50 M1654.65,411.33 h-17.50 M187.35,385.43 h10.30 M1654.65,385.43 h-10.30 M187.35,359.53 h10.30 M1654.65,359.53 h-10.30 M187.35,333.63 h10.30 M1654.65,333.63 h-10.30 M187.35,307.73 h10.30 M1654.65,307.73 h-10.30 M187.35,281.83 h17.50 M1654.65,281.83 h-17.50 M187.35,255.93 h10.30 M1654.65,255.93 h-10.30 M187.35,230.03 h10.30 M1654.65,230.03 h-10.30 M187.35,204.13 h10.30 M1654.65,204.13 h-10.30 M187.35,178.23 h10.30 M1654.65,178.23 h-10.30 M187.35,152.33 h17.50 M1654.65,152.33 h-17.50 M187.35,126.43 h10.30 M1654.65,126.43 h-10.30 M187.35,100.53 h10.30 M1654.65,100.53 h-10.30 M187.35,74.63 h10.30 M1654.65,74.63 h-10.30 M187.35,48.73 h10.30 M1654.65,48.73 h-10.30" fill="none" stroke="#000" stroke-width="1.1"/>
<path d="M187.35,929.33 v-17.50 M187.35,22.83 v17.50 M187.35,929.33 h17.50 M1654.65,929.33 h-17.50 M187.35,22.83 h17.50 M1654.65,22.83 h-17.50" fill="none" stroke="#000" stroke-width="1.1" stroke-opacity="0.35"/>
<rect x="187.35" y="22.83" width="1467.30" height="906.50" fill="none" stroke="#000" stroke-width="1.0"/>
<clipPath id="c1"><rect x="10.56" y="-31.50" width="4.14" height="32.34"/><rect x="0" y="-31.50" width="14.70" height="27.30"/></clipPath>
<text class="tk" transform="translate(115.89,944.03) scale(0.985,1.02) rotate(0.05)">0.0</text>
<text class="tk" transform="translate(115.89,814.53) scale(0.985,1.02) rotate(0.05)">0.</text>
<text class="tk" clip-path="url(#c1)" transform="translate(151.69,814.53) scale(0.985,1.02) rotate(0.05)">1</text>
<text class="tk" transform="translate(115.89,685.03) scale(0.985,1.02) rotate(0.05)">0.2</text>
<text class="tk" transform="translate(115.89,555.53) scale(0.985,1.02) rotate(0.05)">0.3</text>
<text class="tk" transform="translate(115.89,426.03) scale(0.985,1.02) rotate(0.05)">0.4</text>
<text class="tk" transform="translate(115.89,296.53) scale(0.985,1.02) rotate(0.05)">0.5</text>
<text class="tk" transform="translate(115.89,167.03) scale(0.985,1.02) rotate(0.05)">0.6</text>
<text class="tk" transform="translate(115.89,37.53) scale(0.985,1.02) rotate(0.05)">0.7</text>
<text class="tk" transform="translate(175.65,980.40) scale(0.985,1.02) rotate(0.05)">0</text>
<text class="tk" transform="translate(420.20,980.40) scale(0.985,1.02) rotate(0.05)">5</text>
<text class="tk" clip-path="url(#c1)" transform="translate(654.54,980.40) scale(0.985,1.02) rotate(0.05)">1</text>
<text class="tk" transform="translate(676.25,980.40) scale(0.985,1.02) rotate(0.05)">0</text>
<text class="tk" clip-path="url(#c1)" transform="translate(899.09,980.40) scale(0.985,1.02) rotate(0.05)">1</text>
<text class="tk" transform="translate(920.80,980.40) scale(0.985,1.02) rotate(0.05)">5</text>
<text class="tk" transform="translate(1142.34,980.40) scale(0.985,1.02) rotate(0.05)">20</text>
<text class="tk" transform="translate(1386.89,980.40) scale(0.985,1.02) rotate(0.05)">25</text>
<text class="it" font-size="60.4" transform="translate(862.50,1086.70) scale(1.078,0.93) rotate(0.05)">r</text>
<text class="sa" font-size="60.4" transform="translate(894.10,1087.20) scale(1,0.983) rotate(0.05)">/</text>
<text class="it" font-size="60.4" transform="translate(917.50,1087.00) scale(1,1.012) skewX(-5.5) rotate(0.05)">M</text>
<g transform="translate(0,0) rotate(-90)">
<text class="it" font-size="60.7" transform="translate(-614.70,63.90) scale(0.905,1) skewX(-14) rotate(0.05)">V</text>
<text class="sa" font-size="43" transform="translate(-574.20,75.40) scale(0.988,1) rotate(0.05)">eff</text>
<text class="sa" font-size="43" transform="translate(-522.90,76.80) scale(0.83,1.15) rotate(0.05)">–</text>
<text class="sa" font-size="43" transform="translate(-500.90,75.40) scale(0.988,1) rotate(0.05)">massive</text>
</g>
</svg></body></html>
